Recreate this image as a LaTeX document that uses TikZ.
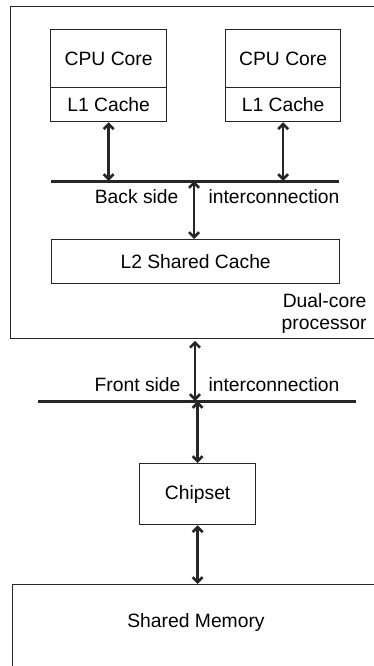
\documentclass[tikz,border=0pt]{standalone}
\usepackage{fontspec}
\setmainfont{Liberation Sans}
\usetikzlibrary{arrows.meta}
\begin{document}
\begin{tikzpicture}[x=1pt,y=-1pt,
  font=\fontsize{19.3}{22}\selectfont,
  box/.style={draw=black!85, line width=1.3pt, inner sep=0pt, anchor=north west},
  bus/.style={line width=3pt, draw=black!85},
  link/.style={line width=2.6pt, draw=black!85, {Straight Barb[length=5pt,width=10pt]}-{Straight Barb[length=5pt,width=10pt]}}]
\useasboundingbox (0,0) rectangle (374,666);
\clip (0,0) rectangle (374,666);
% processor container
\node[box, minimum width=400pt, minimum height=332pt] (proc) at (10,6) {};
% cores
\node[box, minimum width=116pt, minimum height=58pt] (cpuA) at (50,29) {CPU Core};
\node[box, minimum width=116pt, minimum height=34pt] (l1A) at (50,87) {L1 Cache};
\node[box, minimum width=115pt, minimum height=58pt] (cpuB) at (225,29) {CPU Core};
\node[box, minimum width=115pt, minimum height=34pt] (l1B) at (225,87) {L1 Cache};
% back side bus
\coordinate (bsL) at (51,181);
\coordinate (bsR) at (339,181);
\draw[bus] (bsL) -- (bsR);
\draw[link] (l1A.south) -- (l1A.south |- bsL);
\draw[link] (l1B.south) -- (l1B.south |- bsL);
% L2
\node[box, minimum width=288pt, minimum height=44pt] (l2) at (51,239) {L2 Shared Cache};
\coordinate (bsM) at (194,181);
\draw[link] (bsM) -- (bsM |- l2.north);
\node[anchor=east] (bstxt) at (182,197) {Back side};
\node[anchor=west] (bstxt2) at (205,197) {interconnection};
\node[align=right, anchor=east] (dual) at (370,314) {Dual-core\\processor};
% front side bus
\coordinate (fsL) at (38,401);
\coordinate (fsR) at (356,401);
\draw[bus] (fsL) -- (fsR);
\coordinate (fsM) at (195,401);
\draw[link] (proc.south -| fsM) ++(0,1.5) coordinate (pb) -- (fsM);
\node[anchor=east] (fstxt) at (184,385) {Front side};
\node[anchor=west] (fstxt2) at (205,385) {interconnection};
% chipset
\node[box, minimum width=116pt, minimum height=61pt] (chip) at (139,463) {Chipset};
\draw[link] (chip.north |- fsM) -- (chip.north);
% memory
\node[box, minimum width=400pt, minimum height=120pt] (mem) at (12,584) {};
\node (memtxt) at (196,623) {Shared Memory};
\draw[link] (chip.south) -- (chip.south |- mem.north);
\end{tikzpicture}
\end{document}
